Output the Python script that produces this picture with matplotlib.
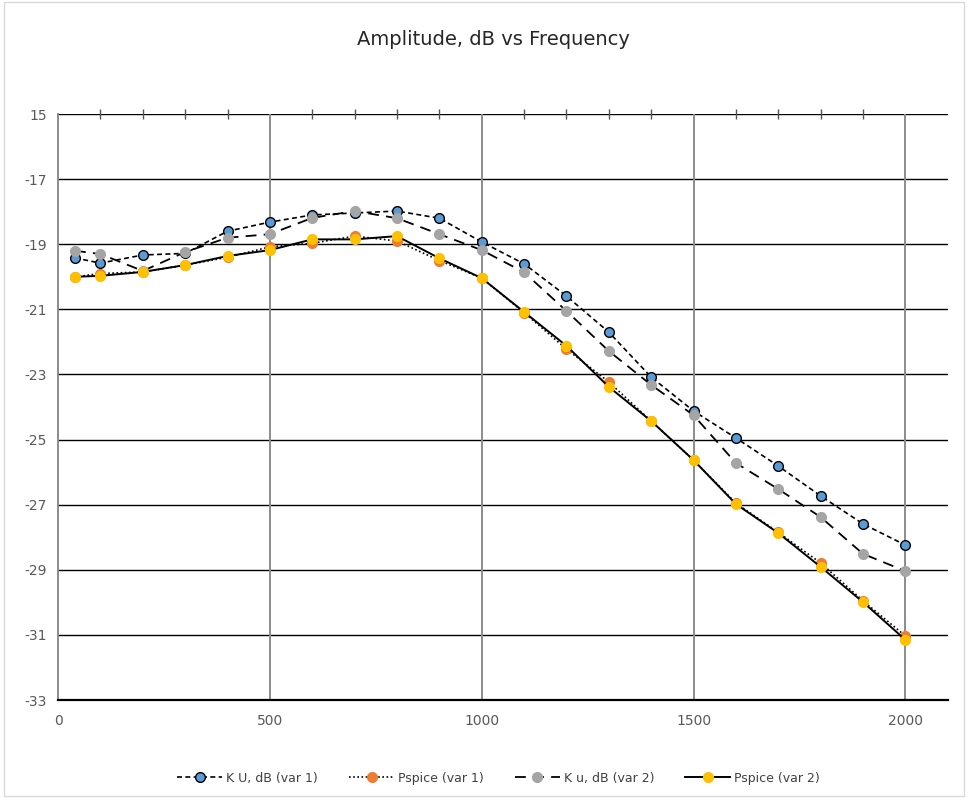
import matplotlib
matplotlib.use("Agg")
import matplotlib.pyplot as plt
from matplotlib.ticker import FixedLocator
from matplotlib.patches import Rectangle

freq = [40, 100, 200, 300, 400, 500, 600, 700, 800, 900, 1000,
        1100, 1200, 1300, 1400, 1500, 1600, 1700, 1800, 1900, 2000]

ku_var1 = [-19.42, -19.58, -19.33, -19.28, -18.60, -18.32, -18.10, -18.04, -17.98, -18.20, -18.93,
           -19.60, -20.59, -21.70, -23.08, -24.12, -24.95, -25.81, -26.73, -27.59, -28.24]
pspice_var1 = [-20.00, -19.90, -19.85, -19.64, -19.40, -19.08, -18.97, -18.75, -18.90, -19.50, -20.04,
               -21.10, -22.22, -23.23, -24.43, -25.63, -26.95, -27.85, -28.79, -29.95, -31.03]
ku_var2 = [-19.20, -19.30, -19.82, -19.24, -18.80, -18.69, -18.19, -17.98, -18.20, -18.69, -19.18,
           -19.86, -21.05, -22.28, -23.32, -24.25, -25.72, -26.52, -27.38, -28.51, -29.04]
pspice_var2 = [-20.00, -19.97, -19.85, -19.64, -19.36, -19.18, -18.85, -18.85, -18.75, -19.43, -20.04,
               -21.08, -22.12, -23.38, -24.43, -25.63, -26.98, -27.87, -28.91, -29.99, -31.15]

series_names = ["K U, dB (var 1)", "Pspice (var 1)", "K u, dB (var 2)", "Pspice (var 2)"]
y_ticks = [-15, -17, -19, -21, -23, -25, -27, -29, -31, -33]
y_tick_labels = ["15", "-17", "-19", "-21", "-23", "-25", "-27", "-29", "-31", "-33"]
x_ticks = [0, 500, 1000, 1500, 2000]
x_tick_labels = ["0", "500", "1000", "1500", "2000"]

fig = plt.figure(figsize=(9.68, 7.98), dpi=100)
ax = fig.add_axes([0.06, 0.1228, 0.919, 0.7343])

ax.set_xlim(0, 2100)
ax.set_ylim(-33, -15)

# gridlines
for y in y_ticks[:-1]:
    ax.axhline(y, color="black", lw=1.0, zorder=1)
for x in x_ticks[1:]:
    ax.axvline(x, color="#8c8c8c", lw=1.4, zorder=1)

ms = 7
ax.plot(freq, ku_var1, ls=(0, (3, 2)), color="black", lw=1.2, marker="o", ms=ms,
        mfc="#5b9bd5", mec="black", mew=1.0, label=series_names[0], zorder=3)
ax.plot(freq, pspice_var1, ls=(0, (1, 1.5)), color="black", lw=1.2, marker="o", ms=ms,
        mfc="#ed7d31", mec="#ed7d31", label=series_names[1], zorder=3)
ax.plot(freq, ku_var2, ls=(0, (6, 4)), color="black", lw=1.3, marker="o", ms=ms,
        mfc="#a5a5a5", mec="#a5a5a5", label=series_names[2], zorder=3)
ax.plot(freq, pspice_var2, ls="-", color="black", lw=1.4, marker="o", ms=ms,
        mfc="#ffc000", mec="#ffc000", label=series_names[3], zorder=3)

for s in ["top", "right"]:
    ax.spines[s].set_visible(False)
ax.spines["left"].set_color("#8c8c8c")
ax.spines["left"].set_linewidth(1.4)
ax.spines["bottom"].set_color("black")
ax.spines["bottom"].set_linewidth(1.6)

ax.set_yticks(y_ticks)
ax.set_yticklabels(y_tick_labels)
ax.set_xticks(x_ticks)
ax.set_xticklabels(x_tick_labels)
ax.xaxis.set_minor_locator(FixedLocator([v for v in range(100, 2001, 100) if v % 500 != 0]))
ax.tick_params(axis="both", which="major", length=0, labelsize=10, labelcolor="#595959", pad=8)
ax.tick_params(axis="x", which="minor", top=True, bottom=False, direction="inout",
               length=7, width=1.0, color="#555555")
ax.tick_params(axis="x", which="major", pad=10)

fig.text(0.51, 0.95, "Amplitude, dB vs Frequency", ha="center", va="center",
         fontsize=14, color="#262626")

leg = fig.legend(loc="center", bbox_to_anchor=(0.515, 0.025), ncol=4, frameon=False,
                 fontsize=9, handlelength=3.6, columnspacing=2.5, handletextpad=0.3)
for t in leg.get_texts():
    t.set_color("#404040")

fig.patches.append(Rectangle((0.004, 0.002), 0.992, 0.996, transform=fig.transFigure,
                             fill=False, edgecolor="#d9d9d9", lw=1))

fig.savefig("out.png", dpi=100, facecolor="white")
